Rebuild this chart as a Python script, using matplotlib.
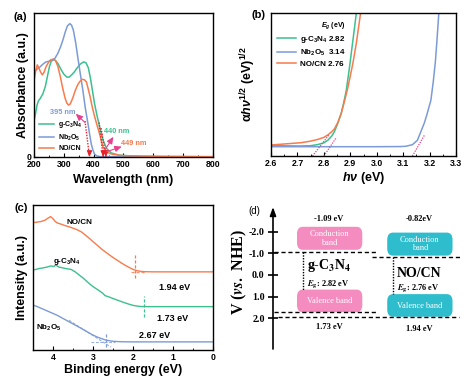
import numpy as np
import matplotlib
matplotlib.use('Agg')
import matplotlib.pyplot as plt
from matplotlib.patches import FancyBboxPatch

plt.rcParams['font.family'] = ['Liberation Sans', 'DejaVu Sans']
plt.rcParams['font.weight'] = 'bold'
plt.rcParams['axes.labelweight'] = 'bold'
plt.rcParams['mathtext.fontset'] = 'custom'
plt.rcParams['mathtext.rm'] = 'Liberation Sans:bold'
plt.rcParams['mathtext.bf'] = 'Liberation Sans:bold'
plt.rcParams['mathtext.it'] = 'Liberation Sans:italic:bold'
plt.rcParams['mathtext.bfit'] = 'Liberation Sans:italic:bold'
plt.rcParams['mathtext.default'] = 'bf'
plt.rcParams['axes.linewidth'] = 1.0

GREEN = '#3cc08e'
BLUE = '#7c9bd6'
ORANGE = '#f77b4d'
PINK = '#e8408e'
RED = '#e8202a'

# ---------------- (a) UV-vis absorbance ----------------
wl_g = [200, 205, 210, 215, 222, 230, 238, 245, 252, 258, 264, 272, 280, 290, 300, 310, 318, 326, 335, 345,
        355, 366, 374, 382, 389, 396, 403, 412, 420, 431, 443, 459, 487, 550, 650, 800]
ab_g = [0.25, 0.30, 0.36, 0.39, 0.41, 0.44, 0.49, 0.56, 0.63, 0.665, 0.675, 0.67, 0.65, 0.61, 0.575, 0.555,
        0.555, 0.57, 0.59, 0.62, 0.645, 0.66, 0.655, 0.62, 0.55, 0.46, 0.37, 0.28, 0.21, 0.12, 0.06, 0.028,
        0.012, 0.005, 0.003, 0.002]
wl_n = [200, 210, 220, 230, 240, 250, 260, 270, 280, 290, 298, 305, 312, 320, 326, 332, 340, 347, 355, 364,
        372, 381, 387, 392, 398, 403, 410, 420, 500, 800]
ab_n = [0.59, 0.61, 0.625, 0.645, 0.66, 0.665, 0.67, 0.685, 0.72, 0.77, 0.82, 0.87, 0.91, 0.926, 0.915, 0.88,
        0.79, 0.69, 0.58, 0.46, 0.34, 0.23, 0.15, 0.09, 0.045, 0.02, 0.008, 0.003, 0.001, 0.0]
wl_c = [200, 205, 211, 216, 222, 228, 234, 240, 248, 256, 265, 272, 280, 288, 296, 304, 310, 316, 322, 330,
        338, 346, 354, 362, 370, 376, 382, 388, 395, 402, 410, 420, 431, 443, 455, 465, 500, 600, 800]
ab_c = [0.53, 0.59, 0.64, 0.62, 0.59, 0.57, 0.59, 0.625, 0.655, 0.675, 0.68, 0.67, 0.63, 0.56, 0.48, 0.41,
        0.375, 0.36, 0.37, 0.41, 0.46, 0.50, 0.525, 0.54, 0.535, 0.52, 0.47, 0.42, 0.35, 0.29, 0.23, 0.16,
        0.07, 0.035, 0.024, 0.018, 0.009, 0.005, 0.002]
edge_labels = ['395 nm', '440 nm', '449 nm']
# tangent lines: x-intercept and upper point (nm, abs)
tan_a_x0 = [386, 432, 441]
tan_a_x1 = [371, 418, 425]
tan_a_y1 = [0.25, 0.24, 0.20]

# ---------------- (b) Tauc plot ----------------
hv_g = [2.60, 2.65, 2.714, 2.75, 2.777, 2.80, 2.815, 2.83, 2.84, 2.853, 2.866, 2.876, 2.885, 2.897, 2.91, 2.923]
ty_g = [0.072, 0.071, 0.070, 0.072, 0.080, 0.092, 0.11, 0.14, 0.17, 0.23, 0.30, 0.38, 0.46, 0.62, 0.81, 1.0]
hv_n = [2.60, 2.8, 3.0, 3.09, 3.11, 3.135, 3.154, 3.167, 3.18, 3.19, 3.205, 3.214, 3.222, 3.228, 3.235]
ty_n = [0.065, 0.065, 0.065, 0.066, 0.068, 0.079, 0.11, 0.17, 0.23, 0.29, 0.39, 0.52, 0.66, 0.81, 1.0]
hv_c = [2.60, 2.65, 2.714, 2.75, 2.777, 2.80, 2.815, 2.83, 2.84, 2.853, 2.866, 2.879, 2.891, 2.90, 2.91, 2.923,
        2.939]
ty_c = [0.077, 0.084, 0.093, 0.104, 0.116, 0.13, 0.147, 0.17, 0.19, 0.235, 0.30, 0.39, 0.48, 0.56, 0.65, 0.79,
        1.0]
eg_vals = ['2.82', '3.14', '2.76']
tan_b_x0 = [2.800, 3.135, 2.757]
tan_b_x1 = [2.846, 3.181, 2.819]
tan_b_y1 = [0.126, 0.147, 0.147]

# ---------------- (c) VB-XPS ----------------
be_c = [4.5, 4.4, 4.3, 4.2, 4.12, 4.06, 4.0, 3.94, 3.88, 3.8, 3.7, 3.6, 3.5, 3.4, 3.3, 3.2, 3.1, 3.0, 2.9, 2.8,
        2.7, 2.6, 2.5, 2.4, 2.3, 2.2, 2.1, 2.0, 1.9, 1.8, 1.7, 1.5, 1.0, 0.5, 0.0]
xi_c = [0.878, 0.882, 0.886, 0.895, 0.91, 0.92, 0.905, 0.885, 0.875, 0.868, 0.858, 0.85, 0.84, 0.83, 0.816,
        0.795, 0.772, 0.747, 0.724, 0.70, 0.678, 0.658, 0.638, 0.62, 0.602, 0.585, 0.57, 0.556, 0.547, 0.542,
        0.540, 0.539, 0.539, 0.539, 0.539]
be_g = [4.5, 4.42, 4.35, 4.25, 4.15, 4.05, 3.98, 3.93, 3.85, 3.75, 3.65, 3.55, 3.45, 3.35, 3.25, 3.15, 3.05,
        2.95, 2.85, 2.75, 2.7, 2.6, 2.5, 2.4, 2.3, 2.2, 2.1, 2.0, 1.9, 1.8, 1.6, 1.0, 0.0]
xi_g = [0.552, 0.556, 0.562, 0.566, 0.572, 0.58, 0.576, 0.585, 0.572, 0.566, 0.56, 0.556, 0.54, 0.518, 0.497,
        0.472, 0.448, 0.428, 0.41, 0.39, 0.375, 0.366, 0.355, 0.345, 0.335, 0.325, 0.316, 0.308, 0.303, 0.300,
        0.299, 0.299, 0.299]
be_n = [4.5, 4.4, 4.3, 4.2, 4.1, 4.0, 3.9, 3.8, 3.7, 3.6, 3.5, 3.4, 3.3, 3.2, 3.1, 3.0, 2.9, 2.8, 2.7, 2.6,
        2.5, 2.3, 2.0, 1.0, 0.0]
xi_n = [0.31, 0.30, 0.288, 0.276, 0.264, 0.252, 0.24, 0.225, 0.21, 0.195, 0.18, 0.165, 0.15, 0.134, 0.118,
        0.103, 0.09, 0.08, 0.07, 0.064, 0.06, 0.057, 0.056, 0.056, 0.056]
vb_edge = [1.94, 1.73, 2.67]

# ---------------- (d) band structure ----------------
materials = ['g-C$_\\mathbf{3}$N$_\\mathbf{4}$', 'NO/CN']
cb = [-1.09, -0.82]
vb = [1.73, 1.94]
eg_d = ['2.82', '2.76']
d_ticks = [-2.0, -1.0, 0.0, 1.0, 2.0]


def bold_ticks(ax, size):
    ax.tick_params(labelsize=size)
    for lab in ax.get_xticklabels() + ax.get_yticklabels():
        lab.set_fontweight('bold')


fig = plt.figure(figsize=(4.68, 3.83), dpi=100)

# ===== panel a =====
ax = fig.add_axes([34/468, 1-157/383, 179/468, 144/383])
ax.plot(wl_g, ab_g, color=GREEN, lw=1.1, label='g-C$_3$N$_4$')
ax.plot(wl_n, ab_n, color=BLUE, lw=1.1, label='Nb$_2$O$_5$')
ax.plot(wl_c, ab_c, color=ORANGE, lw=1.1, label='NO/CN')
for x0, x1, y1 in zip(tan_a_x0, tan_a_x1, tan_a_y1):
    ax.plot([x1, x0], [y1, 0], color=RED, lw=1.0, ls=(0, (1, 1)))
    ax.annotate('', xy=(x0, 0.0), xytext=(x0, 0.04),
                arrowprops=dict(arrowstyle='-|>,head_length=0.35,head_width=0.15', color=RED, lw=0.8,
                                shrinkA=0, shrinkB=0))
ann_cols = [BLUE, GREEN, ORANGE]
ann_txt_xy = [(297, 0.31), (478, 0.174), (535, 0.097)]
ann_arrow_from = [(371, 0.24), (438, 0.05), (444, 0.037)]
ann_arrow_to = [(340, 0.30), (466, 0.14), (494, 0.072)]
for lab, col, txy, af, at in zip(edge_labels, ann_cols, ann_txt_xy, ann_arrow_from, ann_arrow_to):
    ax.text(txy[0], txy[1], lab, color=col, fontsize=5.3, ha='center', va='center')
    ax.annotate('', xy=at, xytext=af,
                arrowprops=dict(arrowstyle='-|>,head_length=0.4,head_width=0.18', color=PINK, lw=0.8,
                                shrinkA=0, shrinkB=0))
ax.set_xlim(200, 800)
ax.set_ylim(0, 1.0)
ax.set_xticks(range(200, 801, 100))
ax.set_xticks(range(250, 800, 100), minor=True)
ax.set_yticks([0])
ax.tick_params(direction='in', length=3, width=0.8, pad=2)
ax.tick_params(which='minor', direction='in', length=1.5, width=0.6)
bold_ticks(ax, 6.3)
ax.set_xlabel('Wavelength (nm)', fontsize=9)
ax.set_ylabel('Absorbance (a.u.)', fontsize=9)
ax.xaxis.set_label_coords(0.5, -0.115)
ax.yaxis.set_label_coords(-0.028, 0.5)
ax.legend(loc='lower left', bbox_to_anchor=(0.0, 0.0), frameon=False, fontsize=5.0, handlelength=2.2,
          labelspacing=0.35, handletextpad=0.6, borderaxespad=0.3)
fig.text(20/468, 1-17/383, '(a)', fontsize=8, ha='center', va='center')

# ===== panel b =====
ax = fig.add_axes([271/468, 1-156/383, 185/468, 143/383])
lg, = ax.plot(hv_g, ty_g, color=GREEN, lw=1.1)
ln, = ax.plot(hv_n, ty_n, color=BLUE, lw=1.1)
lc, = ax.plot(hv_c, ty_c, color=ORANGE, lw=1.1)
for x0, x1, y1 in zip(tan_b_x0, tan_b_x1, tan_b_y1):
    ax.plot([x0, x1], [0, y1], color=PINK, lw=0.9, ls=(0, (1, 1)))
ax.set_xlim(2.6, 3.3)
ax.set_ylim(0, 1.0)
ax.set_xticks(np.round(np.arange(2.6, 3.31, 0.1), 1))
ax.set_xticks(np.arange(2.65, 3.3, 0.1), minor=True)
ax.set_yticks([])
ax.tick_params(direction='in', length=3, width=0.8, pad=2)
ax.tick_params(which='minor', direction='in', length=1.5, width=0.6)
bold_ticks(ax, 6.3)
ax.set_xlabel(r'$\mathbfit{h\nu}$ (eV)', fontsize=9)
ax.set_ylabel(r'$\mathrm{\alpha}\mathbfit{h\nu}^{1/2}$ (eV)$^{1/2}$', fontsize=9)
ax.xaxis.set_label_coords(0.5, -0.098)
ax.yaxis.set_label_coords(-0.07, 0.5)
leg = ax.legend([lg, ln, lc],
                ['g-C$_3$N$_4$ ' + eg_vals[0], 'Nb$_2$O$_5$  ' + eg_vals[1], 'NO/CN ' + eg_vals[2]],
                loc='upper left', bbox_to_anchor=(0.0, 0.99), frameon=False, fontsize=5.8,
                handlelength=2.4, labelspacing=0.35, handletextpad=0.5, borderaxespad=0.3,
                title='$\\mathit{E}_{\\mathit{g}}$ (eV)', title_fontsize=5.0, alignment='right')
fig.text(258/468, 1-15/383, '(b)', fontsize=8, ha='center', va='center')

# ===== panel c =====
ax = fig.add_axes([33/468, 1-350/383, 180/468, 145/383])
ax.plot(be_c, xi_c, color=ORANGE, lw=1.0)
ax.plot(be_g, xi_g, color=GREEN, lw=1.0)
ax.plot(be_n, xi_n, color=BLUE, lw=1.0)
dash = (0, (2.5, 1.5))
ax.plot([vb_edge[0], vb_edge[0]], [0.50, 0.655], color=ORANGE, lw=0.9, ls=dash)
ax.plot([2.05, 1.7], [0.539, 0.539], color=ORANGE, lw=0.9, ls=dash, alpha=0.8)
ax.plot([vb_edge[1], vb_edge[1]], [0.23, 0.372], color=GREEN, lw=0.9, ls=dash)
ax.plot([vb_edge[2], vb_edge[2]], [0.023, 0.126], color=BLUE, lw=0.9, ls=dash)
ax.plot([3.6, 2.55], [0.205, 0.02], color=BLUE, lw=0.8, ls=dash, alpha=0.8)
ax.plot([3.05, 2.45], [0.058, 0.058], color=BLUE, lw=0.8, ls=dash, alpha=0.8)
ax.text(3.33, 0.876, 'NO/CN', fontsize=5.8, ha='center', va='center')
ax.text(3.65, 0.607, 'g-C$_3$N$_4$', fontsize=5.8, ha='center', va='center')
ax.text(4.1, 0.152, 'Nb$_2$O$_5$', fontsize=5.8, ha='center', va='center')
ax.text(0.95, 0.428, '%.2f eV' % vb_edge[0], fontsize=6.5, ha='center', va='center')
ax.text(1.0, 0.22, '%.2f eV' % vb_edge[1], fontsize=6.5, ha='center', va='center')
ax.text(1.45, 0.103, '%.2f eV' % vb_edge[2], fontsize=6.5, ha='center', va='center')
ax.set_xlim(4.5, 0)
ax.set_ylim(0, 1.0)
ax.set_xticks([4, 3, 2, 1, 0])
ax.set_xticks([4.5, 3.5, 2.5, 1.5, 0.5], minor=True)
ax.set_yticks([])
ax.tick_params(direction='in', length=3, width=0.8, pad=2)
ax.tick_params(which='minor', direction='in', length=1.5, width=0.6)
bold_ticks(ax, 6.3)
ax.set_xlabel('Binding energy (eV)', fontsize=9)
ax.set_ylabel('Intensity (a.u.)', fontsize=9)
ax.xaxis.set_label_coords(0.5, -0.097)
ax.yaxis.set_label_coords(-0.025, 0.5)
fig.text(21/468, 1-208/383, '(c)', fontsize=8, ha='center', va='center')

# ===== panel d =====
ax = fig.add_axes([273/468, 1-349/383, 192/468, 142/383])
ax.set_xlim(0, 10)
ax.set_ylim(3.44, -3.16)
for s in ax.spines.values():
    s.set_visible(False)
ax.set_xticks([])
ax.set_yticks(d_ticks)
ax.set_yticklabels(['-2.0', '-1.0', '0.0', '1.0', '2.0'], fontfamily='Liberation Serif', fontweight='bold',
                   fontsize=7.2)
ax.tick_params(axis='y', direction='inout', length=7, width=1.2, pad=2.5)
ax.annotate('', xy=(0, 1.0), xytext=(0, 0.0), xycoords='axes fraction',
            arrowprops=dict(arrowstyle='-|>,head_length=0.5,head_width=0.18', lw=1.2, color='k',
                            shrinkA=0, shrinkB=0))
box_x = [1.25, 5.95]
box_w = 3.4
box_cols = ['#f48cbf', '#2dbdcc']
cb_line_x = [(0.05, 5.42), (5.16, 9.84)]
vb_line_x = [(0.05, 5.42), (0.25, 9.7)]
dot_x = [1.56, 6.25]
cb_lab = ['-1.09 eV', '-0.82eV']
cb_lab_x = [2.92, 7.6]
vb_lab_y = [2.42, 2.51]
serif = dict(fontfamily='Liberation Serif', math_fontfamily='stix')
for i in range(2):
    ax.add_patch(FancyBboxPatch((box_x[i], cb[i] - 1.15), box_w, 1.07,
                                boxstyle='round,pad=0,rounding_size=0.3', fc=box_cols[i], ec='none',
                                mutation_aspect=1.1))
    ax.text(box_x[i] + box_w/2, cb[i] - 0.62, 'Conduction\nband', color='white', fontsize=6,
            fontweight='normal', ha='center', va='center', linespacing=1.15, **serif)
    ax.add_patch(FancyBboxPatch((box_x[i], vb[i] - 1.05), box_w, 1.05,
                                boxstyle='round,pad=0,rounding_size=0.3', fc=box_cols[i], ec='none',
                                mutation_aspect=1.1))
    ax.text(box_x[i] + box_w/2, vb[i] - 0.52, 'Valence band', color='white', fontsize=6,
            fontweight='normal', ha='center', va='center', **serif)
    ax.plot(cb_line_x[i], [cb[i], cb[i]], color='k', lw=1.0, ls=(0, (3, 2)))
    ax.plot(vb_line_x[i], [vb[i], vb[i]], color='k', lw=1.0, ls=(0, (3, 2)))
    ax.plot([dot_x[i], dot_x[i]], [cb[i], vb[i] - 1.05], color='k', lw=1.0, ls=(0, (1, 1)))
    ax.text(cb_lab_x[i], -2.6, cb_lab[i], fontsize=6, fontweight='bold', ha='center', va='center', **serif)
    ax.text(cb_lab_x[i], vb_lab_y[i], '%.2f eV' % vb[i], fontsize=6, fontweight='bold', ha='center',
            va='center', **serif)
ax.text(1.77, -0.42, materials[0], fontsize=10, fontweight='bold', ha='left', va='center', **serif)
ax.text(6.46, -0.09, materials[1], fontsize=10, fontweight='bold', ha='left', va='center', **serif)
ax.text(1.77, 0.42, r'$\mathbfit{E}_\mathbf{g}$: ' + eg_d[0] + ' eV', fontsize=6, fontweight='bold',
        ha='left', va='center', **serif)
ax.text(6.46, 0.6, r'$\mathbfit{E}_\mathbf{g}$: ' + eg_d[1] + ' eV', fontsize=6, fontweight='bold',
        ha='left', va='center', **serif)
fig.text(254/468, 1-211/383, '(d)', fontsize=7, fontweight='normal', ha='center', va='center')
fig.text(239/468, 1-272/383, r'V ($\mathbfit{vs.}$ NHE)', fontsize=11.5, fontweight='bold', rotation=90,
         ha='center', va='center', **serif)

fig.savefig('out.png', dpi=100)
